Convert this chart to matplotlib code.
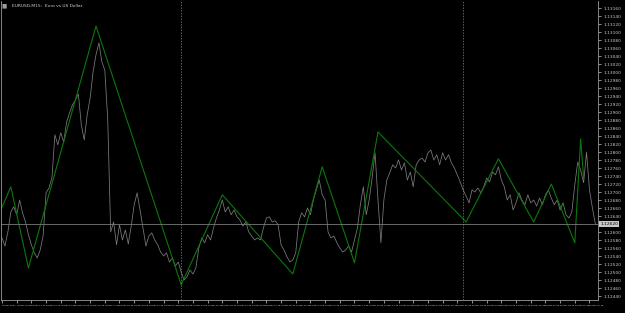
import matplotlib
matplotlib.use('Agg')
import matplotlib.pyplot as plt
import matplotlib.transforms as mtransforms
import numpy as np
import pandas as pd

symbol_title = 'EURUSD,M15:  Euro vs US Dollar'
start_time = '2017-12-18 08:45'
bar_freq = '15min'
day_breaks = ['2017-12-19 00:00', '2017-12-20 00:00']
bid = 1.12620

# close prices, one per bar
closes = [1.12585, 1.12565, 1.12600, 1.12650, 1.12663, 1.12643, 1.12680, 1.12648, 1.12625, 1.12593,
	1.12568, 1.12548, 1.12535, 1.12555, 1.12590, 1.12698, 1.12710, 1.12735, 1.12843, 1.12818,
	1.12848, 1.12825, 1.12875, 1.12898, 1.12918, 1.12930, 1.12945, 1.12868, 1.12830, 1.12893,
	1.12935, 1.13000, 1.13043, 1.13073, 1.13025, 1.13005, 1.12880, 1.12600, 1.12625, 1.12568,
	1.12618, 1.12580, 1.12605, 1.12570, 1.12615, 1.12668, 1.12698, 1.12655, 1.12610, 1.12565,
	1.12590, 1.12598, 1.12580, 1.12568, 1.12550, 1.12540, 1.12548, 1.12525, 1.12535, 1.12515,
	1.12525, 1.12500, 1.12480, 1.12488, 1.12505, 1.12495, 1.12510, 1.12560, 1.12585, 1.12573,
	1.12593, 1.12580, 1.12610, 1.12635, 1.12655, 1.12680, 1.12650, 1.12663, 1.12643, 1.12655,
	1.12638, 1.12630, 1.12615, 1.12625, 1.12600, 1.12590, 1.12580, 1.12585, 1.12580, 1.12610,
	1.12635, 1.12638, 1.12625, 1.12628, 1.12618, 1.12568, 1.12555, 1.12538, 1.12525, 1.12530,
	1.12548, 1.12625, 1.12648, 1.12638, 1.12660, 1.12643, 1.12680, 1.12705, 1.12730, 1.12693,
	1.12680, 1.12600, 1.12585, 1.12590, 1.12573, 1.12560, 1.12550, 1.12555, 1.12565, 1.12550,
	1.12580, 1.12610, 1.12668, 1.12713, 1.12643, 1.12680, 1.12735, 1.12798, 1.12680, 1.12573,
	1.12680, 1.12730, 1.12748, 1.12768, 1.12760, 1.12780, 1.12755, 1.12773, 1.12730, 1.12750,
	1.12713, 1.12768, 1.12780, 1.12785, 1.12775, 1.12798, 1.12805, 1.12780, 1.12793, 1.12768,
	1.12798, 1.12780, 1.12793, 1.12773, 1.12760, 1.12743, 1.12725, 1.12705, 1.12690, 1.12673,
	1.12705, 1.12700, 1.12710, 1.12698, 1.12713, 1.12735, 1.12725, 1.12750, 1.12743, 1.12763,
	1.12730, 1.12713, 1.12680, 1.12693, 1.12655, 1.12673, 1.12698, 1.12680, 1.12668, 1.12693,
	1.12673, 1.12680, 1.12665, 1.12685, 1.12668, 1.12693, 1.12705, 1.12685, 1.12668, 1.12680,
	1.12655, 1.12673, 1.12643, 1.12635, 1.12650, 1.12718, 1.12775, 1.12755, 1.12723, 1.12800,
	1.12705, 1.12660, 1.12620]

# zigzag turning points: bar index and price
zz_bars = [-1, 3, 9, 32, 61, 75, 99, 109, 120, 128, 158, 169, 181, 187, 195, 197, 198]
zz_prices = [1.12645, 1.12713, 1.12510, 1.13115, 1.12468, 1.12693, 1.12495, 1.12763, 1.12523,
	1.12850, 1.12625, 1.12783, 1.12625, 1.12720, 1.12573, 1.12833, 1.12735]

price_ticks = np.round(np.arange(1.12440, 1.131601, 0.0002), 5)
price_ticks = price_ticks[np.abs(price_ticks - bid) > 0.0001]   # bid box sits there

times = pd.date_range(start_time, periods=len(closes), freq=bar_freq)
bars = np.arange(len(closes))

fig = plt.figure(figsize=(6.25, 3.13), dpi=100, facecolor='black')
ax = fig.add_axes([1/625, 1-300/313, 597/625, 299/313], facecolor='black')

ax.plot(bars, closes, color='#7c7c7c', lw=0.55)
ax.plot(zz_bars, zz_prices, color='#0b780b', lw=0.8)
ax.axhline(bid, color='#7a7a7a', lw=0.6)
for d in day_breaks:
	i = times.get_loc(pd.Timestamp(d))
	ax.axvline(i, color='#8a8a8a', lw=0.5, ls=(0, (2, 2)))

ax.set_xlim(-0.34, 202.9)
ax.set_ylim(1.12430, 1.131775)

for s in ax.spines.values():
	s.set_color('#9a9a9a')
	s.set_linewidth(0.6)
ax.spines['top'].set_visible(False)

ax.yaxis.tick_right()
ax.set_yticks(price_ticks)
ax.set_yticklabels(['%.5f' % p for p in price_ticks])
xt = bars[::5]
ax.set_xticks(xt)
lbls = [times[0].strftime('%d %b %Y')] + [t.strftime('%d %b %H:%M') for t in times[xt[1:]]]
ax.set_xticklabels(lbls, ha='left')
ax.tick_params(colors='#c8c8c8', length=2, width=0.5)
ax.tick_params(axis='x', labelsize=1.5, labelcolor='#f0f0f0', pad=1.5)
ax.tick_params(axis='y', labelsize=3.2, pad=2)

# current price box on the scale
tr = mtransforms.blended_transform_factory(ax.transAxes, ax.transData)
ax.text(1.004, bid, '%.5f' % bid, transform=tr, fontsize=3.2, color='black', va='center', ha='left',
	bbox=dict(boxstyle='square,pad=0.25', fc='#c8c8c8', ec='none'))

fig.text(2/625, 1-6/313, '\u25a0', color='#9a9a9a', fontsize=4, va='center')
fig.text(12/625, 1-6/313, symbol_title, color='#d0d0d0', fontsize=3.2, va='center')

plt.savefig('out.png', dpi=100, facecolor='black')
